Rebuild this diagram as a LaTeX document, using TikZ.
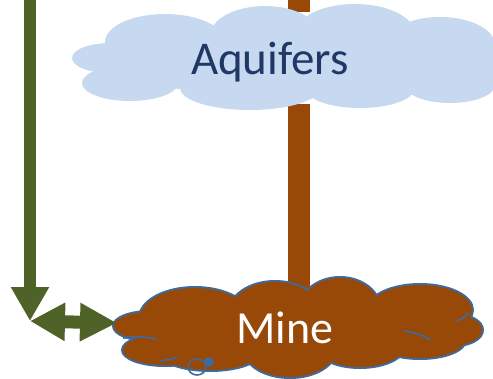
\documentclass[tikz,border=0pt]{standalone}
\usepackage{fontspec}
\setmainfont{Carlito}
\usetikzlibrary{positioning,arrows.meta}
\definecolor{olivedark}{HTML}{4F6228}
\definecolor{rust}{HTML}{984807}
\definecolor{skyfill}{HTML}{C6D9F1}
\definecolor{navytext}{HTML}{1F3864}
\definecolor{edgeblue}{HTML}{41699A}

\begin{document}
\begin{tikzpicture}
[x=1pt, y=-1pt,
 flow/.style={line width=12pt, draw=olivedark, -{Triangle[width=36pt,length=34pt]}},
 swap/.style={line width=13pt, draw=olivedark, {Triangle[width=36pt,length=35pt]}-{Triangle[width=36pt,length=37pt]}},
 shaft/.style={line width=22pt, draw=rust},
 puffline/.style={draw=edgeblue, line width=1.8pt},
 bigtext/.style={font=\fontsize{47}{50}\selectfont}]
\useasboundingbox (0,0) rectangle (493,378);
\coordinate (bartop) at (299,-5);
\coordinate (aqtop) at (299,12);
\coordinate (aqfoot) at (299,104);
\coordinate (barfoot) at (299,305);
\coordinate (wellhead) at (30,-5);
\coordinate (corner) at (30,321);
\coordinate (mineedge) at (117,323);
% shaft, above and below the aquifers
\draw[shaft] (bartop) -- (aqtop);
\draw[shaft] (aqfoot) -- (barfoot);
% aquifers cloud
\foreach \cx/\cy/\rx/\ry in {110/58/38/15, 130/83/48/18, 165/42/60/28, 265/36/55/30,
  355/34/60/30, 440/45/55/28, 480/65/40/20, 450/85/45/18, 360/88/55/20,
  250/88/70/22, 280/60/180/35}
  \fill[skyfill] (\cx,\cy) ellipse [x radius=\rx, y radius=\ry];
\node[bigtext, text=navytext] (aquifers) at (270,62) {Aquifers};
% mine cloud
\foreach \cx/\cy/\rx/\ry in {150/326/36/14, 165/350/42/15, 195/318/55/30, 275/312/45/30,
  340/310/40/32, 420/310/52/25, 455/330/27/15, 420/340/45/18, 360/345/45/22,
  290/350/45/27, 210/352/50/18, 300/330/150/30}
  \draw[puffline, line width=4pt] (\cx,\cy) ellipse [x radius=\rx, y radius=\ry];
\foreach \cx/\cy/\rx/\ry in {150/326/36/14, 165/350/42/15, 195/318/55/30, 275/312/45/30,
  340/310/40/32, 420/310/52/25, 455/330/27/15, 420/340/45/18, 360/345/45/22,
  290/350/45/27, 210/352/50/18, 300/330/150/30}
  \fill[rust] (\cx,\cy) ellipse [x radius=\rx, y radius=\ry];
\draw[puffline] (123,338) .. controls (135,336) and (148,337) .. (157,339);
\draw[puffline] (404,331) .. controls (414,332) and (424,336) .. (431,340);
\draw[puffline] (457,321) .. controls (462,319) and (466,316) .. (469,313);
\draw[puffline] (160,361) .. controls (166,360) and (172,359) .. (177,357);
\node[font=\fontsize{46}{50}\selectfont, text=white] (mine) at (285,328) {Mine};
\draw[edgeblue, line width=1.6pt] (197,367) circle [x radius=9pt, y radius=8pt];
\draw[edgeblue, fill=edgeblue, line width=1pt] (209,362) circle [radius=4.5pt];
% arrows
\draw[flow] (wellhead) -- (corner);
\draw[swap] (corner) -- (mineedge);
\end{tikzpicture}
\end{document}
